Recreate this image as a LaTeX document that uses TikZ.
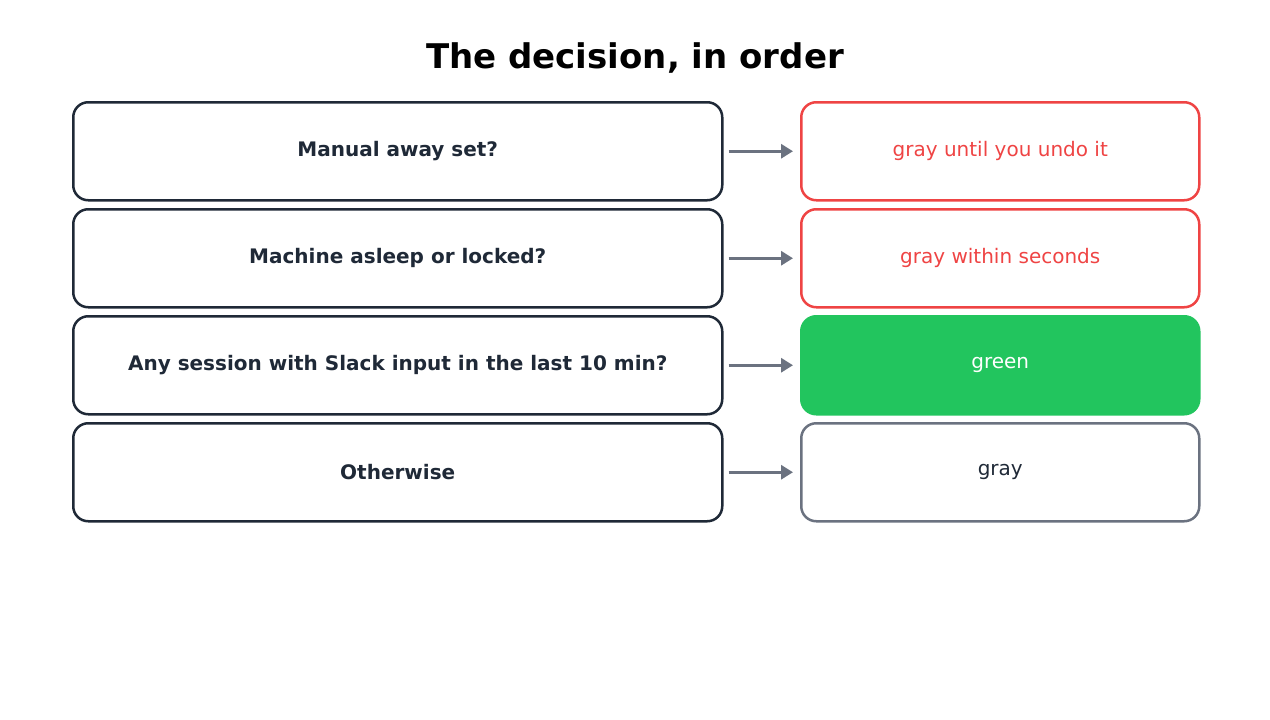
\documentclass[tikz,border=0pt]{standalone}
\usepackage{fontspec}
\setmainfont{DejaVu Sans}
\usetikzlibrary{arrows.meta}
\definecolor{dark}{HTML}{1F2937}
\definecolor{myred}{HTML}{EF4444}
\definecolor{mygreen}{HTML}{22C55E}
\definecolor{mygray}{HTML}{6B7280}
\begin{document}
\begin{tikzpicture}[x=1pt,y=-1pt,
  q/.style={draw=dark,line width=2.5pt,rounded corners=15pt,minimum width=649pt,minimum height=98pt,font=\fontsize{20}{24}\selectfont\bfseries,text=dark,anchor=north west},
  r/.style={line width=2.5pt,rounded corners=15pt,minimum width=398pt,minimum height=98pt,font=\fontsize{20}{24}\selectfont,anchor=north west},
  ar/.style={draw=mygray,line width=3pt,-{Triangle[length=12pt,width=14pt]}}]
\useasboundingbox[fill=white] (0,0) rectangle (1270,720);
\node[font=\fontsize{34}{40}\selectfont\bfseries] (t) at (635,58) {The decision, in order};
\node[q] (q1) at (72,101) {Manual away set?};
\node[q] (q2) at (72,208) {Machine asleep or locked?};
\node[q] (q3) at (72,315) {Any session with Slack input in the last 10 min?};
\node[q] (q4) at (72,422) {Otherwise};
\node[r,draw=myred,text=myred] (r1) at (800,101) {gray until you undo it};
\node[r,draw=myred,text=myred] (r2) at (800,208) {gray within seconds};
\node[r,draw=mygreen,fill=mygreen,text=white] (r3) at (800,315) {\raisebox{3pt}{green}};
\node[r,draw=mygray,text=dark] (r4) at (800,422) {\raisebox{3pt}{gray}};
\foreach \i in {1,2,3,4}{\draw[ar] ([xshift=5pt]q\i.east) -- ([xshift=-7pt]r\i.west);}
\end{tikzpicture}
\end{document}
